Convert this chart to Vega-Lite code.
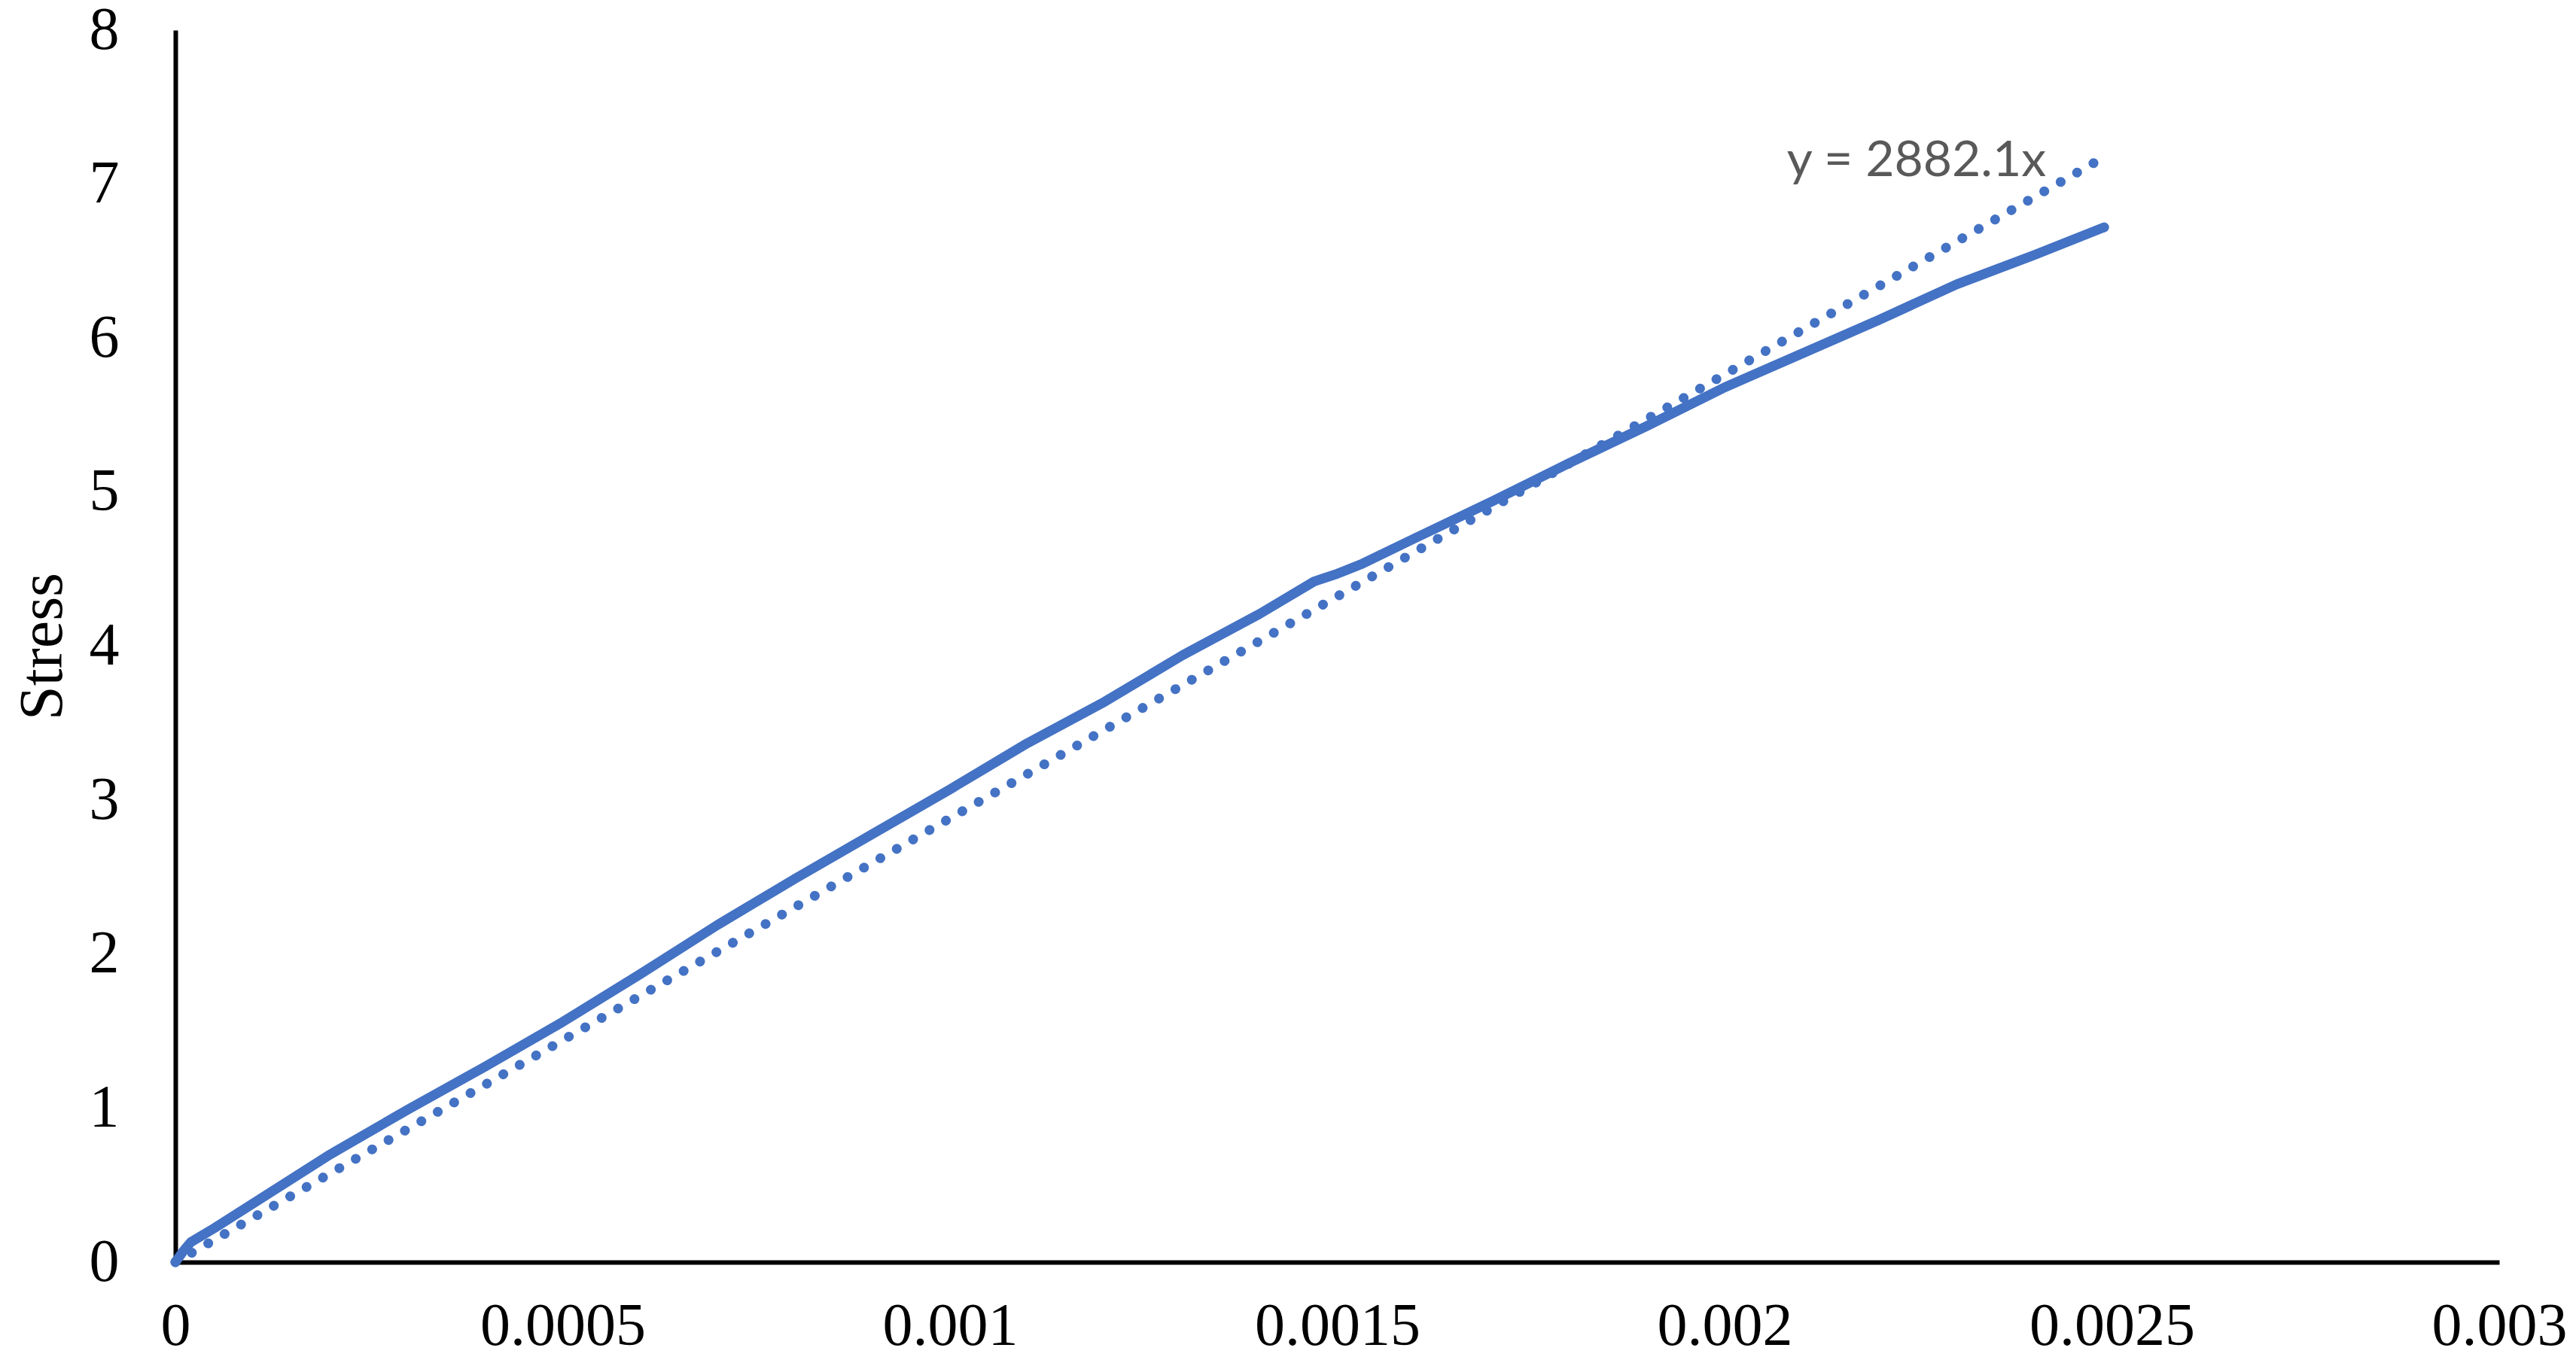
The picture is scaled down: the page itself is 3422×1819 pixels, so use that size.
{
  "$schema": "https://vega.github.io/schema/vega-lite/v6.json",
  "width": 3087,
  "height": 1637,
  "autosize": {"type": "none"},
  "padding": {"left": 233, "top": 40, "right": 102, "bottom": 142},
  "background": "white",
  "config": {
    "view": {"stroke": null},
    "axis": {
      "grid": false,
      "ticks": false,
      "tickSize": 0,
      "domainColor": "black",
      "domainWidth": 6,
      "labelFont": "Liberation Serif",
      "labelFontSize": 80,
      "labelColor": "black",
      "labelFlush": false,
      "labelOverlap": false,
      "labelLimit": 0,
      "titleFont": "Liberation Serif",
      "titleFontSize": 82,
      "titleFontWeight": "normal",
      "titleColor": "black"
    }
  },
  "datasets": {
    "curve": [
      {"strain": 0, "stress": 0},
      {"strain": 0.00001, "stress": 0.07},
      {"strain": 0.00002, "stress": 0.13},
      {"strain": 0.00005, "stress": 0.22},
      {"strain": 0.0001, "stress": 0.38},
      {"strain": 0.0002, "stress": 0.7},
      {"strain": 0.0003, "stress": 0.99},
      {"strain": 0.0004, "stress": 1.27},
      {"strain": 0.0005, "stress": 1.56},
      {"strain": 0.0006, "stress": 1.87},
      {"strain": 0.0007, "stress": 2.19},
      {"strain": 0.0008, "stress": 2.49},
      {"strain": 0.0009, "stress": 2.78},
      {"strain": 0.001, "stress": 3.07},
      {"strain": 0.0011, "stress": 3.37},
      {"strain": 0.0012, "stress": 3.64},
      {"strain": 0.0013, "stress": 3.94},
      {"strain": 0.0014, "stress": 4.21},
      {"strain": 0.00147, "stress": 4.42},
      {"strain": 0.0015, "stress": 4.47},
      {"strain": 0.00153, "stress": 4.53},
      {"strain": 0.0016, "stress": 4.7},
      {"strain": 0.0017, "stress": 4.94},
      {"strain": 0.0018, "stress": 5.19},
      {"strain": 0.0019, "stress": 5.43},
      {"strain": 0.002, "stress": 5.68},
      {"strain": 0.0021, "stress": 5.9},
      {"strain": 0.0022, "stress": 6.12},
      {"strain": 0.0023, "stress": 6.35},
      {"strain": 0.0024, "stress": 6.54},
      {"strain": 0.00249, "stress": 6.72}
    ],
    "trend": [
      {"strain": 0, "stress": 0},
      {"strain": 0.00249, "stress": 7.176}
    ],
    "label": [
      {"strain": 0.002415, "stress": 7.05, "text": "y = 2882.1x"}
    ]
  },
  "layer": [
    {
      "data": {"name": "trend"},
      "mark": {"type": "line", "color": "#4472C4", "strokeWidth": 13, "strokeCap": "round", "strokeDash": [0.1, 25]},
      "encoding": {
        "x": {
          "field": "strain", "type": "quantitative",
          "scale": {"domain": [0, 0.003], "nice": false, "zero": true},
          "axis": {"values": [0, 0.0005, 0.001, 0.0015, 0.002, 0.0025, 0.003], "format": "~g", "labelPadding": 46, "title": null}
        },
        "y": {
          "field": "stress", "type": "quantitative",
          "scale": {"domain": [0, 8], "nice": false},
          "axis": {"values": [0, 1, 2, 3, 4, 5, 6, 7, 8], "format": "d", "labelPadding": 75, "title": "Stress", "titlePadding": 20}
        }
      }
    },
    {
      "data": {"name": "curve"},
      "mark": {"type": "line", "color": "#4472C4", "strokeWidth": 13, "strokeJoin": "round", "strokeCap": "round"},
      "encoding": {
        "x": {"field": "strain", "type": "quantitative"},
        "y": {"field": "stress", "type": "quantitative"}
      }
    },
    {
      "data": {"name": "label"},
      "mark": {"type": "text", "align": "right", "baseline": "alphabetic", "font": "Lato", "fontSize": 66, "color": "#595959"},
      "encoding": {
        "x": {"field": "strain", "type": "quantitative"},
        "y": {"field": "stress", "type": "quantitative"},
        "text": {"field": "text"}
      }
    }
  ]
}
